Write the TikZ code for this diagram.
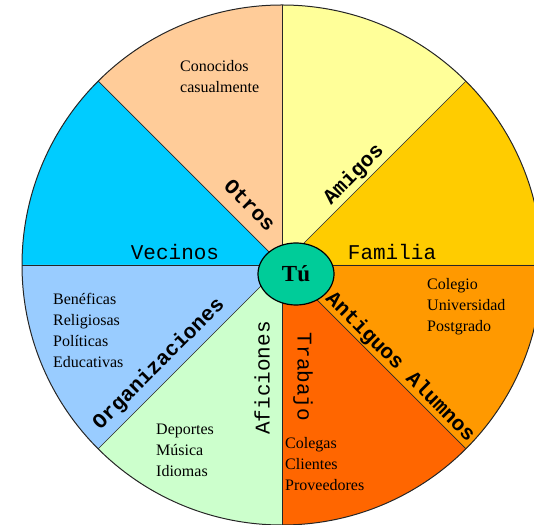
\documentclass[tikz,border=0pt]{standalone}
\usepackage{fontspec}
\setmainfont{Liberation Serif}
\newfontfamily\courfont{Liberation Mono}
\usetikzlibrary{shapes.geometric}
\definecolor{cFam}{HTML}{FFCC00}
\definecolor{cAmi}{HTML}{FFFF99}
\definecolor{cOtr}{HTML}{FFCC99}
\definecolor{cVec}{HTML}{00CCFF}
\definecolor{cOrg}{HTML}{99CCFF}
\definecolor{cAfi}{HTML}{CCFFCC}
\definecolor{cTra}{HTML}{FF6600}
\definecolor{cAnt}{HTML}{FF9900}
\definecolor{cTu}{HTML}{00CC99}
\tikzset{
  divider/.style={draw=black!85, line width=0.7pt},
  rim/.style={draw=black!85, line width=1pt},
  smalltext/.style={font=\fontsize{16}{21}\selectfont, align=left, inner sep=0pt, text=black},
  biglabel/.style={font=\courfont\fontsize{21}{21}\selectfont, inner sep=0pt, text=black},
  boldlabel/.style={font=\courfont\bfseries\fontsize{21}{21}\selectfont, inner sep=0pt, text=black},
  hub/.style={ellipse, fill=cTu, draw=black, line width=1.2pt, minimum width=76pt, minimum height=62pt, inner sep=0pt, font=\bfseries\fontsize{23}{23}\selectfont}
}
\begin{document}
\begin{tikzpicture}[x=1pt,y=1pt]
\useasboundingbox (0,0) rectangle (534,524);
\clip (0,0) rectangle (534,524);
\coordinate (C) at (282,259);
\foreach \a/\c in {0/cFam,45/cAmi,90/cOtr,135/cVec,180/cOrg,225/cAfi,270/cTra,315/cAnt}
  \fill[\c] (C) -- ++(\a:260) arc[start angle=\a, end angle=\a+45, radius=260] -- cycle;
\foreach \a in {0,45,...,315}
  \draw[divider] (C) -- ++(\a:260);
\draw[rim] (C) circle[radius=260];
\node[hub] (tu) at (296,250) {Tú};
% sector texts
\node[smalltext, anchor=west] (conocidos) at (180,447.5) {Conocidos\\casualmente};
\node[smalltext, anchor=west] (colegio) at (427,217) {Colegio\\Universidad\\Postgrado};
\node[smalltext, anchor=west] (beneficas) at (53,194) {Benéficas\\Religiosas\\Políticas\\Educativas};
\node[smalltext, anchor=west] (deportes) at (156,74) {Deportes\\Música\\Idiomas};
\node[smalltext, anchor=west] (colegas) at (285,60) {Colegas\\Clientes\\Proveedores};
% labels
\node[biglabel, anchor=base] (vecinos) at (175,264) {Vecinos};
\node[biglabel, anchor=base] (familia) at (392,264) {Familia};
\node[biglabel, rotate=90] (aficiones) at (262,146) {Aficiones};
\node[biglabel, rotate=-90] (trabajo) at (303,147) {Trabajo};
\node[boldlabel, rotate=-45] (otros) at (250,319) {Otros};
\node[boldlabel, rotate=45] (amigos) at (354,349) {Amigos};
\node[boldlabel, rotate=-45] (antiguos) at (400,157) {Antiguos Alumnos};
\node[boldlabel, rotate=45] (organizaciones) at (159,160) {Organizaciones};
\end{tikzpicture}
\end{document}
